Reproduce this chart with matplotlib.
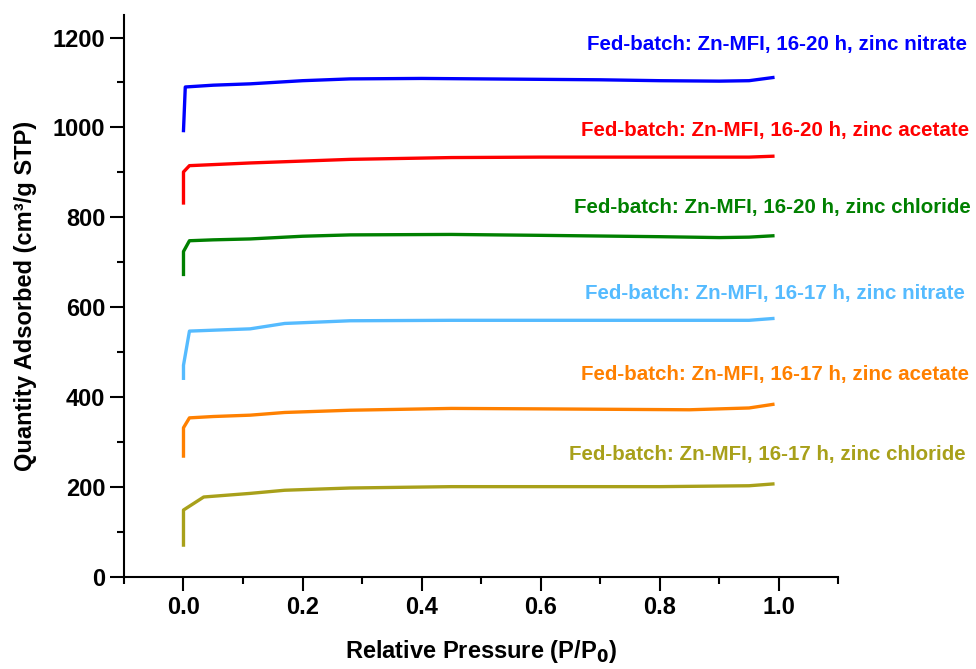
import numpy as np
import matplotlib.pyplot as plt
from matplotlib.ticker import MultipleLocator

plt.rcParams['font.family'] = ['Liberation Sans', 'DejaVu Sans']
plt.rcParams['font.weight'] = 'bold'

# isotherm data (P/P0, cm3/g STP)
p_nitrate_20 = [0.0, 0.003, 0.05, 0.112, 0.2, 0.28, 0.4, 0.5, 0.6, 0.7, 0.8, 0.9, 0.95, 0.99]
q_nitrate_20 = [993, 1090, 1094, 1097, 1104, 1108, 1109, 1108, 1107, 1106, 1104, 1103, 1104, 1111]

p_acetate_20 = [0.0, 0.0, 0.01, 0.112, 0.28, 0.45, 0.6, 0.8, 0.95, 0.99]
q_acetate_20 = [832, 901, 915, 921, 929, 933, 934, 934, 934, 936]

p_chloride_20 = [0.0, 0.0, 0.01, 0.05, 0.112, 0.2, 0.28, 0.45, 0.6, 0.8, 0.9, 0.95, 0.99]
q_chloride_20 = [673, 724, 748, 750, 752, 758, 761, 762, 760, 757, 755, 756, 759]

p_nitrate_17 = [0.0, 0.0, 0.01, 0.05, 0.112, 0.17, 0.28, 0.45, 0.6, 0.8, 0.95, 0.99]
q_nitrate_17 = [442, 471, 547, 549, 552, 564, 570, 571, 571, 571, 571, 575]

p_acetate_17 = [0.0, 0.0, 0.01, 0.05, 0.112, 0.17, 0.28, 0.45, 0.6, 0.85, 0.95, 0.99]
q_acetate_17 = [269, 332, 354, 357, 360, 366, 371, 375, 374, 372, 376, 384]

p_chloride_17 = [0.0, 0.0, 0.034, 0.112, 0.17, 0.28, 0.45, 0.6, 0.8, 0.95, 0.99]
q_chloride_17 = [71, 149, 178, 186, 193, 198, 201, 201, 201, 203, 207]

labels = [
    'Fed-batch: Zn-MFI, 16-20 h, zinc nitrate',
    'Fed-batch: Zn-MFI, 16-20 h, zinc acetate',
    'Fed-batch: Zn-MFI, 16-20 h, zinc chloride',
    'Fed-batch: Zn-MFI, 16-17 h, zinc nitrate',
    'Fed-batch: Zn-MFI, 16-17 h, zinc acetate',
    'Fed-batch: Zn-MFI, 16-17 h, zinc chloride',
]
label_y = [1184, 993, 822, 631, 451, 273]
label_x = [1.316, 1.319, 1.322, 1.313, 1.319, 1.314]
colors = ['#0000FF', '#FF0000', '#008000', '#55BBFF', '#FF8000', '#A8A01A']

series = [
    (p_nitrate_20, q_nitrate_20),
    (p_acetate_20, q_acetate_20),
    (p_chloride_20, q_chloride_20),
    (p_nitrate_17, q_nitrate_17),
    (p_acetate_17, q_acetate_17),
    (p_chloride_17, q_chloride_17),
]

fig = plt.figure(figsize=(9.76, 6.69), dpi=100)
ax = fig.add_axes([0.127, 0.1375, 0.732, 0.84])

for (p, q), c, lab, lx, ly in zip(series, colors, labels, label_x, label_y):
    ax.plot(p, q, color=c, lw=2.4)
    ax.text(lx, ly, lab, color=c, fontsize=14.8, fontweight='bold',
            ha='right', va='center', clip_on=False)

ax.set_xlim(-0.1, 1.1)
ax.set_ylim(0, 1250)
ax.xaxis.set_minor_locator(MultipleLocator(0.1))
ax.yaxis.set_major_locator(MultipleLocator(200))
ax.yaxis.set_minor_locator(MultipleLocator(100))
ax.set_xticks(np.arange(0, 1.01, 0.2))
ax.set_xticklabels(['0.0', '0.2', '0.4', '0.6', '0.8', '1.0'])

for s in ['top', 'right']:
    ax.spines[s].set_visible(False)
for s in ['left', 'bottom']:
    ax.spines[s].set_linewidth(1.5)

ax.tick_params(which='major', direction='out', length=10, width=1.5, labelsize=17)
ax.tick_params(which='minor', direction='out', length=5, width=1.5)
ax.tick_params(axis='x', pad=4)
for t in ax.get_xticklabels() + ax.get_yticklabels():
    t.set_fontweight('bold')

xl = ax.set_xlabel('Relative Pressure (P/P$_\\mathbf{0}$)', fontsize=17, fontweight='bold')
xl.set_va('center')
ax.xaxis.set_label_coords(0.5, -0.133)
yl = ax.set_ylabel('Quantity Adsorbed (cm³/g STP)', fontsize=17, fontweight='bold')
yl.set_va('center')
ax.yaxis.set_label_coords(-0.138, 0.5)

fig.savefig('out.png', dpi=100)
